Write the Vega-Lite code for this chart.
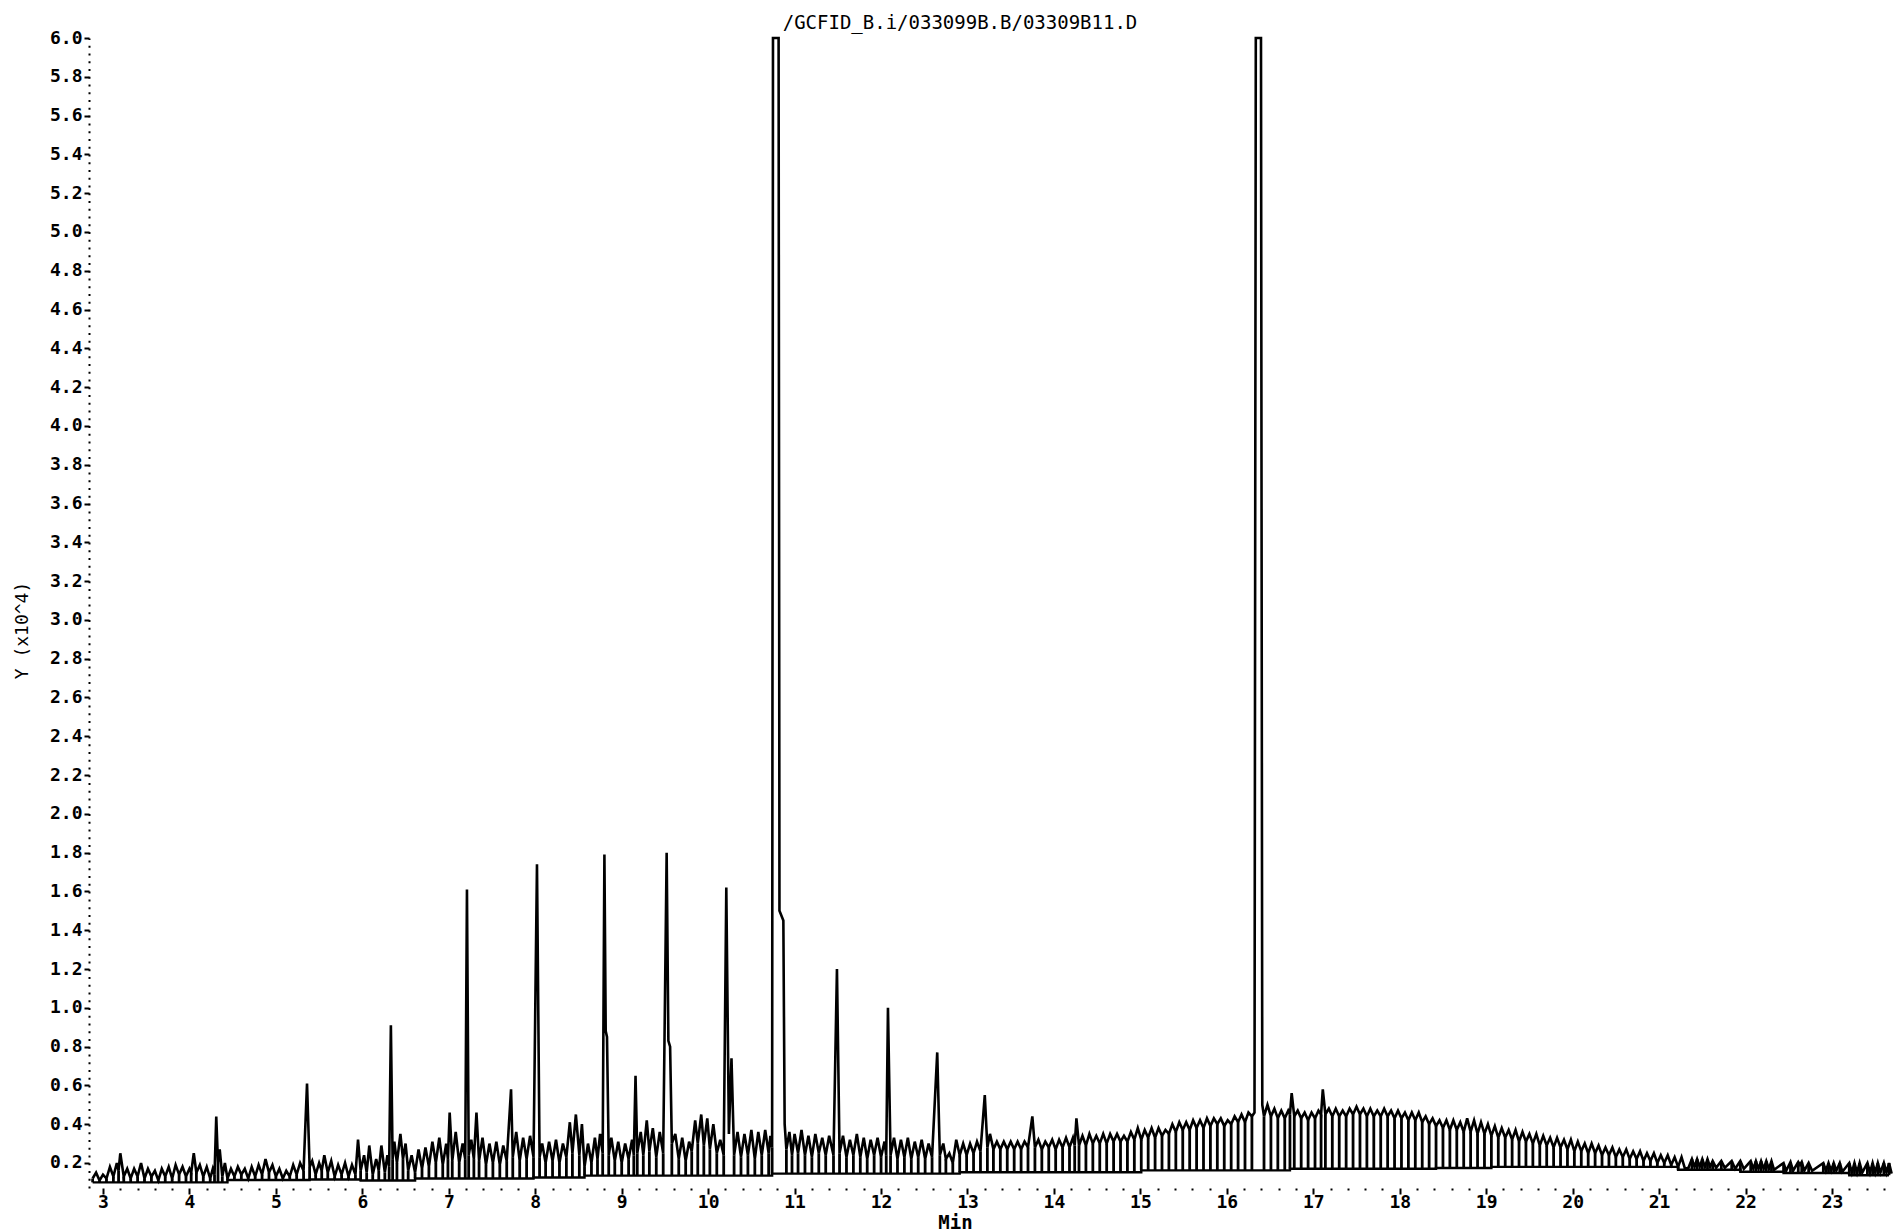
{
"$schema": "https://vega.github.io/schema/vega-lite/v6.json",
"width": 1806,
"height": 1150,
"autosize": "none",
"padding": {"left": 89, "top": 38, "right": 5, "bottom": 43},
"background": "white",
"config": {"view": {"stroke": null}, "font": "DejaVu Sans Mono"},
"title": {"text": "/GCFID_B.i/033099B.B/03309B11.D", "font": "DejaVu Sans Mono", "fontSize": 19, "fontWeight": "normal", "color": "black", "anchor": "middle", "dx": -32, "dy": 26, "offset": 7, "baseline": "alphabetic"},
"datasets": {"tr": [
{"t":2.88,"y":0.12,"b":0.1},{"t":2.92,"y":0.15},{"t":2.96,"y":0.11,"b":0.1},{"t":3.0,"y":0.14},{"t":3.04,"y":0.12,"b":0.1},{"t":3.08,"y":0.18},{"t":3.12,"y":0.13,"b":0.1},{"t":3.16,"y":0.2},{"t":3.18,"y":0.16,"b":0.1},{"t":3.2,"y":0.25},{"t":3.24,"y":0.13,"b":0.1},{"t":3.28,"y":0.17},{"t":3.32,"y":0.12,"b":0.1},{"t":3.36,"y":0.17},{"t":3.4,"y":0.13,"b":0.1},{"t":3.44,"y":0.2},{"t":3.48,"y":0.12,"b":0.1},{"t":3.52,"y":0.17},{"t":3.56,"y":0.13,"b":0.1},{"t":3.6,"y":0.16},{"t":3.64,"y":0.11,"b":0.1},{"t":3.68,"y":0.17},{"t":3.72,"y":0.13,"b":0.1},{"t":3.76,"y":0.18},{"t":3.8,"y":0.12,"b":0.1},{"t":3.84,"y":0.19},{"t":3.88,"y":0.14,"b":0.1},{"t":3.92,"y":0.18},{"t":3.96,"y":0.13,"b":0.1},{"t":4.0,"y":0.17},{"t":4.02,"y":0.15,"b":0.1},{"t":4.05,"y":0.25},{"t":4.08,"y":0.15,"b":0.1},{"t":4.12,"y":0.19},{"t":4.16,"y":0.13,"b":0.1},{"t":4.2,"y":0.18},{"t":4.24,"y":0.12,"b":0.1},{"t":4.27,"y":0.17},{"t":4.29,"y":0.14,"b":0.1},{"t":4.31,"y":0.44},{"t":4.33,"y":0.2,"b":0.1},{"t":4.35,"y":0.27},{"t":4.38,"y":0.13,"b":0.1},{"t":4.41,"y":0.2},
{"t":4.44,"y":0.12,"b":0.112},{"t":4.48,"y":0.17},{"t":4.52,"y":0.13,"b":0.112},{"t":4.56,"y":0.18},{"t":4.6,"y":0.14,"b":0.112},{"t":4.64,"y":0.17},{"t":4.68,"y":0.12,"b":0.112},{"t":4.72,"y":0.18},{"t":4.76,"y":0.13,"b":0.112},{"t":4.8,"y":0.19},{"t":4.84,"y":0.14,"b":0.112},{"t":4.88,"y":0.22},{"t":4.92,"y":0.15,"b":0.112},{"t":4.96,"y":0.19},{"t":5.0,"y":0.13,"b":0.112},{"t":5.04,"y":0.17},{"t":5.08,"y":0.12,"b":0.112},{"t":5.12,"y":0.16},{"t":5.16,"y":0.13,"b":0.112},{"t":5.2,"y":0.19},{"t":5.24,"y":0.14,"b":0.112},{"t":5.28,"y":0.2},{"t":5.32,"y":0.16,"b":0.112},{"t":5.36,"y":0.61},{"t":5.39,"y":0.18,"b":0.115},
{"t":5.42,"y":0.21},{"t":5.46,"y":0.14,"b":0.115},{"t":5.5,"y":0.2},{"t":5.53,"y":0.16,"b":0.115},{"t":5.56,"y":0.24},{"t":5.6,"y":0.15,"b":0.115},{"t":5.64,"y":0.21},{"t":5.68,"y":0.13,"b":0.115},{"t":5.72,"y":0.19},{"t":5.76,"y":0.14,"b":0.115},{"t":5.8,"y":0.2},{"t":5.84,"y":0.13,"b":0.115},{"t":5.88,"y":0.19},{"t":5.92,"y":0.14,"b":0.115},
{"t":5.95,"y":0.32},{"t":5.98,"y":0.16,"b":0.11},{"t":6.02,"y":0.24},{"t":6.05,"y":0.15,"b":0.11},{"t":6.08,"y":0.29},{"t":6.12,"y":0.14,"b":0.11},{"t":6.16,"y":0.22},{"t":6.19,"y":0.16,"b":0.11},{"t":6.22,"y":0.29},{"t":6.26,"y":0.15,"b":0.11},{"t":6.29,"y":0.24},{"t":6.31,"y":0.18,"b":0.11},{"t":6.33,"y":0.91},{"t":6.35,"y":0.22,"b":0.11},{"t":6.37,"y":0.31},{"t":6.4,"y":0.2,"b":0.11},{"t":6.44,"y":0.35},{"t":6.47,"y":0.22,"b":0.11},{"t":6.5,"y":0.3},{"t":6.53,"y":0.16,"b":0.11},
{"t":6.57,"y":0.24},{"t":6.61,"y":0.15,"b":0.12},{"t":6.65,"y":0.27},{"t":6.69,"y":0.17,"b":0.12},{"t":6.73,"y":0.28},{"t":6.77,"y":0.18,"b":0.12},{"t":6.81,"y":0.31},{"t":6.85,"y":0.2,"b":0.12},{"t":6.89,"y":0.33},{"t":6.93,"y":0.19,"b":0.12},{"t":6.97,"y":0.3},{"t":6.99,"y":0.22,"b":0.12},{"t":7.01,"y":0.46},{"t":7.04,"y":0.21,"b":0.12},{"t":7.08,"y":0.36},{"t":7.12,"y":0.2,"b":0.12},{"t":7.16,"y":0.3},{"t":7.19,"y":0.22,"b":0.12},{"t":7.21,"y":1.61},{"t":7.23,"y":0.24,"b":0.12},{"t":7.26,"y":0.32},{"t":7.29,"y":0.22,"b":0.12},{"t":7.32,"y":0.46},{"t":7.35,"y":0.21,"b":0.12},{"t":7.39,"y":0.33},{"t":7.43,"y":0.19,"b":0.12},{"t":7.47,"y":0.3},{"t":7.51,"y":0.2,"b":0.12},{"t":7.55,"y":0.31},{"t":7.59,"y":0.19,"b":0.12},{"t":7.63,"y":0.29},{"t":7.67,"y":0.21,"b":0.12},{"t":7.72,"y":0.58},{"t":7.74,"y":0.23,"b":0.12},{"t":7.78,"y":0.36},{"t":7.82,"y":0.21,"b":0.12},{"t":7.86,"y":0.33},{"t":7.9,"y":0.22,"b":0.12},{"t":7.94,"y":0.34},{"t":7.98,"y":0.23,"b":0.125},
{"t":8.02,"y":1.74},{"t":8.05,"y":0.23,"b":0.125},{"t":8.08,"y":0.3},{"t":8.12,"y":0.2,"b":0.125},{"t":8.16,"y":0.31},{"t":8.2,"y":0.21,"b":0.125},{"t":8.24,"y":0.32},{"t":8.28,"y":0.2,"b":0.125},{"t":8.32,"y":0.3},{"t":8.36,"y":0.23,"b":0.125},{"t":8.4,"y":0.41},{"t":8.43,"y":0.25,"b":0.125},{"t":8.47,"y":0.45},{"t":8.51,"y":0.24,"b":0.125},{"t":8.54,"y":0.4},
{"t":8.57,"y":0.18,"b":0.135},{"t":8.61,"y":0.3},{"t":8.65,"y":0.2,"b":0.135},{"t":8.69,"y":0.33},{"t":8.72,"y":0.22,"b":0.135},{"t":8.75,"y":0.35},{"t":8.78,"y":0.25,"b":0.135},{"t":8.8,"y":1.79},{"t":8.815,"y":0.88},{"t":8.83,"y":0.85},{"t":8.85,"y":0.24,"b":0.135},{"t":8.88,"y":0.33},{"t":8.92,"y":0.21,"b":0.135},{"t":8.96,"y":0.31},{"t":9.0,"y":0.2,"b":0.135},{"t":9.04,"y":0.3},{"t":9.08,"y":0.22,"b":0.135},{"t":9.12,"y":0.32},{"t":9.14,"y":0.24,"b":0.135},{"t":9.16,"y":0.65},{"t":9.18,"y":0.25,"b":0.135},{"t":9.22,"y":0.36},{"t":9.25,"y":0.24,"b":0.135},{"t":9.29,"y":0.42},{"t":9.32,"y":0.26,"b":0.135},{"t":9.36,"y":0.38},{"t":9.4,"y":0.23,"b":0.135},{"t":9.44,"y":0.36},{"t":9.48,"y":0.25,"b":0.135},{"t":9.52,"y":1.8},{"t":9.54,"y":0.83},{"t":9.56,"y":0.8},{"t":9.58,"y":0.3,"b":0.135},{"t":9.62,"y":0.35},{"t":9.66,"y":0.22,"b":0.135},{"t":9.7,"y":0.33},{"t":9.74,"y":0.21,"b":0.135},{"t":9.78,"y":0.31},{"t":9.81,"y":0.26,"b":0.135},{"t":9.85,"y":0.42},{"t":9.88,"y":0.3,"b":0.135},{"t":9.92,"y":0.45},{"t":9.95,"y":0.29,"b":0.135},{"t":9.99,"y":0.43},{"t":10.02,"y":0.27,"b":0.135},{"t":10.06,"y":0.4},{"t":10.1,"y":0.25,"b":0.135},{"t":10.14,"y":0.32},{"t":10.18,"y":0.24,"b":0.135},{"t":10.21,"y":1.62},{"t":10.24,"y":0.35},{"t":10.27,"y":0.74},{"t":10.3,"y":0.24,"b":0.135},{"t":10.34,"y":0.36},{"t":10.38,"y":0.23,"b":0.135},{"t":10.42,"y":0.35},{"t":10.46,"y":0.24,"b":0.135},{"t":10.5,"y":0.37},{"t":10.54,"y":0.22,"b":0.135},{"t":10.58,"y":0.36},{"t":10.62,"y":0.24,"b":0.135},{"t":10.66,"y":0.37},{"t":10.7,"y":0.25,"b":0.135},{"t":10.72,"y":0.34},
{"t":10.74,"y":0.28,"b":0.145},{"t":10.75,"y":6.0},{"t":10.815,"y":6.0},{"t":10.825,"y":1.5},{"t":10.87,"y":1.45},{"t":10.885,"y":0.4},{"t":10.905,"y":0.27,"b":0.145},{"t":10.94,"y":0.36},{"t":10.97,"y":0.24,"b":0.145},{"t":11.0,"y":0.35},{"t":11.04,"y":0.25,"b":0.145},{"t":11.08,"y":0.37},{"t":11.12,"y":0.24,"b":0.145},{"t":11.16,"y":0.34},{"t":11.2,"y":0.23,"b":0.145},{"t":11.24,"y":0.35},{"t":11.28,"y":0.25,"b":0.145},{"t":11.32,"y":0.33},{"t":11.36,"y":0.24,"b":0.145},{"t":11.4,"y":0.34},{"t":11.45,"y":0.24,"b":0.145},{"t":11.49,"y":1.2},{"t":11.52,"y":0.25,"b":0.145},{"t":11.56,"y":0.34},{"t":11.6,"y":0.23,"b":0.145},{"t":11.64,"y":0.32},{"t":11.68,"y":0.24,"b":0.145},{"t":11.72,"y":0.35},{"t":11.76,"y":0.23,"b":0.145},{"t":11.8,"y":0.33},{"t":11.84,"y":0.22,"b":0.145},{"t":11.88,"y":0.32},{"t":11.92,"y":0.24,"b":0.145},{"t":11.96,"y":0.33},{"t":12.0,"y":0.23,"b":0.145},{"t":12.04,"y":0.31},{"t":12.06,"y":0.24,"b":0.145},{"t":12.08,"y":1.0},{"t":12.11,"y":0.24,"b":0.145},{"t":12.15,"y":0.33},{"t":12.19,"y":0.22,"b":0.145},{"t":12.23,"y":0.32},{"t":12.27,"y":0.23,"b":0.145},{"t":12.31,"y":0.33},{"t":12.35,"y":0.22,"b":0.145},{"t":12.39,"y":0.31},{"t":12.43,"y":0.23,"b":0.145},{"t":12.47,"y":0.32},{"t":12.51,"y":0.22,"b":0.145},{"t":12.55,"y":0.3},{"t":12.59,"y":0.23,"b":0.145},{"t":12.65,"y":0.77},{"t":12.68,"y":0.24,"b":0.145},{"t":12.72,"y":0.3},{"t":12.75,"y":0.22,"b":0.145},{"t":12.79,"y":0.25},{"t":12.83,"y":0.2,"b":0.145},{"t":12.87,"y":0.32},
{"t":12.91,"y":0.24,"b":0.152},{"t":12.95,"y":0.3},{"t":12.99,"y":0.24,"b":0.152},{"t":13.03,"y":0.3},{"t":13.07,"y":0.25,"b":0.152},{"t":13.11,"y":0.31},{"t":13.15,"y":0.26,"b":0.152},{"t":13.2,"y":0.55},{"t":13.23,"y":0.28,"b":0.152},{"t":13.26,"y":0.35},{"t":13.3,"y":0.27,"b":0.152},{"t":13.34,"y":0.31},{"t":13.38,"y":0.27,"b":0.152},{"t":13.42,"y":0.31},{"t":13.46,"y":0.27,"b":0.152},{"t":13.5,"y":0.31},{"t":13.54,"y":0.27,"b":0.152},{"t":13.58,"y":0.31},{"t":13.62,"y":0.27,"b":0.152},{"t":13.66,"y":0.31},{"t":13.7,"y":0.28,"b":0.152},{"t":13.75,"y":0.44},{"t":13.78,"y":0.28,"b":0.152},{"t":13.82,"y":0.32},{"t":13.86,"y":0.27,"b":0.152},{"t":13.9,"y":0.31},{"t":13.94,"y":0.28,"b":0.152},{"t":13.98,"y":0.32},{"t":14.02,"y":0.27,"b":0.152},{"t":14.06,"y":0.32},{"t":14.1,"y":0.28,"b":0.152},{"t":14.14,"y":0.33},{"t":14.18,"y":0.28,"b":0.152},{"t":14.22,"y":0.33},{"t":14.24,"y":0.29,"b":0.152},{"t":14.26,"y":0.43},{"t":14.29,"y":0.29,"b":0.152},{"t":14.33,"y":0.34},{"t":14.37,"y":0.29,"b":0.152},{"t":14.41,"y":0.35},{"t":14.45,"y":0.3,"b":0.152},{"t":14.49,"y":0.34},{"t":14.53,"y":0.3,"b":0.152},{"t":14.57,"y":0.35},{"t":14.61,"y":0.3,"b":0.152},{"t":14.65,"y":0.35},{"t":14.69,"y":0.31,"b":0.152},{"t":14.73,"y":0.35},{"t":14.77,"y":0.31,"b":0.152},{"t":14.81,"y":0.34},{"t":14.85,"y":0.31,"b":0.152},{"t":14.89,"y":0.36},{"t":14.93,"y":0.32,"b":0.152},
{"t":14.97,"y":0.38},{"t":15.01,"y":0.32,"b":0.162},{"t":15.05,"y":0.37},{"t":15.09,"y":0.33,"b":0.162},{"t":15.13,"y":0.38},{"t":15.17,"y":0.33,"b":0.162},{"t":15.21,"y":0.38},{"t":15.25,"y":0.34,"b":0.162},{"t":15.29,"y":0.37},{"t":15.33,"y":0.35,"b":0.162},{"t":15.37,"y":0.4},{"t":15.41,"y":0.36,"b":0.162},{"t":15.45,"y":0.41},{"t":15.49,"y":0.37,"b":0.162},{"t":15.53,"y":0.41},{"t":15.57,"y":0.37,"b":0.162},{"t":15.61,"y":0.42},{"t":15.65,"y":0.38,"b":0.162},{"t":15.69,"y":0.42},{"t":15.73,"y":0.38,"b":0.162},{"t":15.77,"y":0.43},{"t":15.81,"y":0.39,"b":0.162},{"t":15.85,"y":0.43},{"t":15.89,"y":0.4,"b":0.162},{"t":15.93,"y":0.43},{"t":15.97,"y":0.39,"b":0.162},{"t":16.01,"y":0.42},{"t":16.05,"y":0.4,"b":0.162},{"t":16.09,"y":0.44},{"t":16.13,"y":0.41,"b":0.162},{"t":16.17,"y":0.45},{"t":16.21,"y":0.41,"b":0.162},{"t":16.25,"y":0.46},{"t":16.29,"y":0.44,"b":0.162},{"t":16.32,"y":0.46},{"t":16.335,"y":6.0},{"t":16.395,"y":6.0},{"t":16.41,"y":0.5},{"t":16.43,"y":0.44,"b":0.162},{"t":16.47,"y":0.5},{"t":16.51,"y":0.44,"b":0.162},{"t":16.55,"y":0.48},{"t":16.59,"y":0.43,"b":0.162},{"t":16.63,"y":0.47},{"t":16.67,"y":0.43,"b":0.162},{"t":16.71,"y":0.47},{"t":16.73,"y":0.45,"b":0.17},{"t":16.75,"y":0.56},{"t":16.78,"y":0.44,"b":0.17},
{"t":16.82,"y":0.47},{"t":16.86,"y":0.43,"b":0.17},{"t":16.9,"y":0.46},{"t":16.94,"y":0.42,"b":0.17},{"t":16.98,"y":0.46},{"t":17.02,"y":0.43,"b":0.17},{"t":17.06,"y":0.47},{"t":17.09,"y":0.45,"b":0.17},{"t":17.11,"y":0.58},{"t":17.14,"y":0.45,"b":0.17},{"t":17.18,"y":0.48},{"t":17.22,"y":0.44,"b":0.17},{"t":17.26,"y":0.48},{"t":17.3,"y":0.44,"b":0.17},{"t":17.34,"y":0.47},{"t":17.38,"y":0.44,"b":0.17},{"t":17.42,"y":0.48},{"t":17.46,"y":0.45,"b":0.17},{"t":17.5,"y":0.49},{"t":17.54,"y":0.45,"b":0.17},{"t":17.58,"y":0.48},{"t":17.62,"y":0.44,"b":0.17},{"t":17.66,"y":0.48},{"t":17.7,"y":0.44,"b":0.17},{"t":17.74,"y":0.47},{"t":17.78,"y":0.44,"b":0.17},{"t":17.82,"y":0.48},{"t":17.86,"y":0.44,"b":0.17},{"t":17.9,"y":0.47},{"t":17.94,"y":0.43,"b":0.17},{"t":17.98,"y":0.47},{"t":18.02,"y":0.43,"b":0.17},{"t":18.06,"y":0.46},{"t":18.1,"y":0.42,"b":0.17},{"t":18.14,"y":0.46},{"t":18.18,"y":0.42,"b":0.17},{"t":18.22,"y":0.46},{"t":18.26,"y":0.41,"b":0.17},{"t":18.3,"y":0.44},{"t":18.34,"y":0.4,"b":0.17},
{"t":18.38,"y":0.43},{"t":18.42,"y":0.39,"b":0.174},{"t":18.46,"y":0.42},{"t":18.5,"y":0.38,"b":0.174},{"t":18.54,"y":0.42},{"t":18.58,"y":0.37,"b":0.174},{"t":18.62,"y":0.42},{"t":18.66,"y":0.37,"b":0.174},{"t":18.7,"y":0.41},{"t":18.74,"y":0.36,"b":0.174},{"t":18.78,"y":0.43},{"t":18.82,"y":0.36,"b":0.174},{"t":18.86,"y":0.42},{"t":18.9,"y":0.35,"b":0.174},{"t":18.94,"y":0.41},{"t":18.98,"y":0.35,"b":0.174},{"t":19.02,"y":0.4},
{"t":19.06,"y":0.34,"b":0.18},{"t":19.1,"y":0.39},{"t":19.14,"y":0.33,"b":0.18},{"t":19.18,"y":0.38},{"t":19.22,"y":0.33,"b":0.18},{"t":19.26,"y":0.37},{"t":19.3,"y":0.32,"b":0.18},{"t":19.34,"y":0.37},{"t":19.38,"y":0.31,"b":0.18},{"t":19.42,"y":0.36},{"t":19.46,"y":0.31,"b":0.18},{"t":19.5,"y":0.35},{"t":19.54,"y":0.3,"b":0.18},{"t":19.58,"y":0.35},{"t":19.62,"y":0.29,"b":0.18},{"t":19.66,"y":0.34},{"t":19.7,"y":0.29,"b":0.18},{"t":19.74,"y":0.33},{"t":19.78,"y":0.28,"b":0.18},{"t":19.82,"y":0.33},{"t":19.86,"y":0.28,"b":0.18},{"t":19.9,"y":0.32},{"t":19.94,"y":0.27,"b":0.18},{"t":19.98,"y":0.32},{"t":20.02,"y":0.26,"b":0.18},{"t":20.06,"y":0.31},{"t":20.1,"y":0.26,"b":0.18},{"t":20.14,"y":0.3},{"t":20.18,"y":0.25,"b":0.18},{"t":20.22,"y":0.3},{"t":20.26,"y":0.25,"b":0.18},{"t":20.3,"y":0.29},{"t":20.34,"y":0.24,"b":0.18},{"t":20.38,"y":0.28},{"t":20.42,"y":0.24,"b":0.18},{"t":20.46,"y":0.28},{"t":20.5,"y":0.23,"b":0.18},{"t":20.54,"y":0.27},{"t":20.58,"y":0.23,"b":0.18},{"t":20.62,"y":0.27},{"t":20.66,"y":0.22,"b":0.18},{"t":20.7,"y":0.26},{"t":20.74,"y":0.22,"b":0.18},{"t":20.78,"y":0.26},{"t":20.82,"y":0.21,"b":0.18},{"t":20.86,"y":0.25},{"t":20.9,"y":0.21,"b":0.18},{"t":20.94,"y":0.25},{"t":20.98,"y":0.2,"b":0.18},{"t":21.02,"y":0.24},{"t":21.06,"y":0.2,"b":0.18},{"t":21.1,"y":0.24},{"t":21.14,"y":0.19,"b":0.18},{"t":21.18,"y":0.23},
{"t":21.22,"y":0.18,"b":0.165},{"t":21.26,"y":0.23},{"t":21.3,"y":0.17,"b":0.165},{"t":21.34,"y":0.175},{"t":21.38,"y":0.22,"b":0.165},{"t":21.41,"y":0.18},{"t":21.44,"y":0.22,"b":0.165},{"t":21.47,"y":0.18},{"t":21.5,"y":0.22,"b":0.165},{"t":21.53,"y":0.18},{"t":21.56,"y":0.22,"b":0.165},{"t":21.59,"y":0.18},{"t":21.62,"y":0.21,"b":0.165},{"t":21.66,"y":0.175},{"t":21.72,"y":0.21,"b":0.165},{"t":21.76,"y":0.175},{"t":21.84,"y":0.21,"b":0.165},{"t":21.88,"y":0.17},
{"t":21.94,"y":0.21,"b":0.155},{"t":21.98,"y":0.17},{"t":22.06,"y":0.21,"b":0.155},{"t":22.09,"y":0.17},{"t":22.12,"y":0.21,"b":0.155},{"t":22.15,"y":0.17},{"t":22.18,"y":0.21,"b":0.155},{"t":22.21,"y":0.17},{"t":22.24,"y":0.21,"b":0.155},{"t":22.27,"y":0.17},{"t":22.3,"y":0.21,"b":0.155},{"t":22.33,"y":0.165},
{"t":22.44,"y":0.2,"b":0.148},{"t":22.47,"y":0.16},{"t":22.52,"y":0.205,"b":0.148},{"t":22.55,"y":0.16},{"t":22.61,"y":0.205,"b":0.148},{"t":22.63,"y":0.19},{"t":22.65,"y":0.205,"b":0.148},{"t":22.68,"y":0.16},{"t":22.73,"y":0.2,"b":0.148},{"t":22.77,"y":0.16},{"t":22.9,"y":0.2,"b":0.148},{"t":22.93,"y":0.16},{"t":22.96,"y":0.2,"b":0.148},{"t":22.99,"y":0.16},{"t":23.02,"y":0.2,"b":0.148},{"t":23.05,"y":0.16},{"t":23.09,"y":0.2,"b":0.148},{"t":23.12,"y":0.155},
{"t":23.2,"y":0.2,"b":0.137},{"t":23.23,"y":0.15},{"t":23.26,"y":0.2,"b":0.137},{"t":23.29,"y":0.15},{"t":23.32,"y":0.2,"b":0.137},{"t":23.35,"y":0.15},{"t":23.41,"y":0.2,"b":0.137},{"t":23.44,"y":0.15},{"t":23.47,"y":0.2,"b":0.137},{"t":23.5,"y":0.15},{"t":23.53,"y":0.2,"b":0.137},{"t":23.56,"y":0.15},{"t":23.6,"y":0.2,"b":0.137},{"t":23.63,"y":0.15},{"t":23.66,"y":0.2,"b":0.137},{"t":23.69,"y":0.145}
]},
"data": {"name": "tr"},
"encoding": {
  "x": {"field": "t", "type": "quantitative",
    "scale": {"domain": [2.838, 23.729], "nice": false, "zero": false},
    "axis": {
      "values": [3,3.2,3.4,3.6,3.8,4,4.2,4.4,4.6,4.8,5,5.2,5.4,5.6,5.8,6,6.2,6.4,6.6,6.8,7,7.2,7.4,7.6,7.8,8,8.2,8.4,8.6,8.8,9,9.2,9.4,9.6,9.8,10,10.2,10.4,10.6,10.8,11,11.2,11.4,11.6,11.8,12,12.2,12.4,12.6,12.8,13,13.2,13.4,13.6,13.8,14,14.2,14.4,14.6,14.8,15,15.2,15.4,15.6,15.8,16,16.2,16.4,16.6,16.8,17,17.2,17.4,17.6,17.8,18,18.2,18.4,18.6,18.8,19,19.2,19.4,19.6,19.8,20,20.2,20.4,20.6,20.8,21,21.2,21.4,21.6,21.8,22,22.2,22.4,22.6,22.8,23,23.2,23.4,23.6],
      "labelExpr": "abs(datum.value - round(datum.value)) < 0.001 ? format(datum.value, 'd') : ''",
      "domain": false, "grid": false,
      "tickColor": "black", "tickWidth": 2,
      "tickSize": {"condition": {"test": "abs(datum.value - round(datum.value)) < 0.001", "value": 6}, "value": 2},
      "labelFont": "DejaVu Sans Mono", "labelFontSize": 18, "labelFontWeight": "bold", "labelColor": "black",
      "labelPadding": -1, "labelFlush": false, "labelOverlap": false,
      "title": "Min", "titleFont": "DejaVu Sans Mono", "titleFontSize": 19, "titleFontWeight": "bold", "titleColor": "black",
      "titleX": 866, "titleY": 34, "titleAlign": "center", "titleBaseline": "middle"
    }
  },
  "y": {"field": "y", "type": "quantitative",
    "scale": {"domain": [0.071, 6.0], "nice": false, "zero": false},
    "axis": {
      "values": [0.2,0.4,0.6,0.8,1.0,1.2,1.4,1.6,1.8,2.0,2.2,2.4,2.6,2.8,3.0,3.2,3.4,3.6,3.8,4.0,4.2,4.4,4.6,4.8,5.0,5.2,5.4,5.6,5.8,6.0],
      "format": ".1f", "grid": false,
      "domain": true, "domainColor": "black", "domainWidth": 2, "domainDash": [2, 5.76],
      "tickColor": "black", "tickWidth": 2, "tickSize": 5,
      "labelFont": "DejaVu Sans Mono", "labelFontSize": 18, "labelFontWeight": "bold", "labelColor": "black",
      "labelPadding": 2, "labelFlush": false, "labelOverlap": false,
      "title": "Y (x10^4)", "titleFont": "DejaVu Sans Mono", "titleFontSize": 18, "titleFontWeight": "normal", "titleColor": "black",
      "titleX": -67, "titleY": 592, "titleAngle": 270, "titleAlign": "center", "titleBaseline": "middle"
    }
  }
},
"layer": [
  {"transform": [{"filter": "isValid(datum.b)"}],
   "mark": {"type": "rule", "color": "black", "strokeWidth": 2.8},
   "encoding": {"y2": {"field": "b"}}},
  {"transform": [{"filter": "isValid(datum.b)"}],
   "mark": {"type": "line", "color": "black", "strokeWidth": 2.4, "interpolate": "step-after"},
   "encoding": {"y": {"field": "b", "type": "quantitative"}}},
  {"mark": {"type": "line", "color": "black", "strokeWidth": 2.6},
   "encoding": {}}
]
}
